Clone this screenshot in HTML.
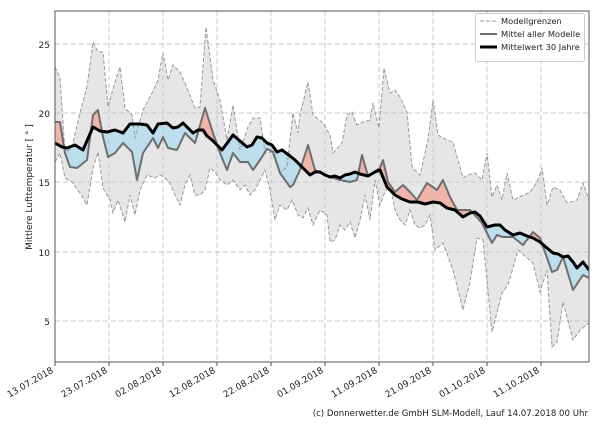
<!DOCTYPE html>
<html><head><meta charset="utf-8"><style>
body{margin:0;background:#fff;width:600px;height:420px;overflow:hidden;font-family:"Liberation Sans","DejaVu Sans",sans-serif}
svg text{font-family:"DejaVu Sans","Liberation Sans",sans-serif;fill:#222}
</style></head><body>
<svg width="600" height="420" viewBox="0 0 600 420" xmlns="http://www.w3.org/2000/svg">
<defs>
<clipPath id="plot"><rect x="55" y="11" width="534" height="351"/></clipPath>
<clipPath id="above"><polygon points="55,143 62,147 67,148 75,145 83,150 93,127 100,131 107,132 115,130 123,133 130,124 140,124 147,125 153,133 158,124 167,123 173,128 178,127 183,123 188,128 193,133 198,130 203,130 207,136 212,140 222,150 228,142 233,135 240,141 247,147 252,145 257,137 262,138 267,143 272,145 277,152 282,150 290,156 295,160 300,165 305,170 310,175 315,172 320,172 325,175 330,177 335,176 340,178 345,175 350,174 355,172 360,174 368,176 375,172 380,170 387,187 395,195 402,199 410,202 418,202 425,204 433,202 440,203 447,208 455,210 463,217 470,213 475,212 480,216 487,227 495,225 500,225 505,230 513,235 520,233 527,236 533,238 540,242 547,248 553,253 558,254 563,257 568,256 573,262 577,268 583,262 589,270 589,0 55,0"/></clipPath>
<clipPath id="below"><polygon points="55,143 62,147 67,148 75,145 83,150 93,127 100,131 107,132 115,130 123,133 130,124 140,124 147,125 153,133 158,124 167,123 173,128 178,127 183,123 188,128 193,133 198,130 203,130 207,136 212,140 222,150 228,142 233,135 240,141 247,147 252,145 257,137 262,138 267,143 272,145 277,152 282,150 290,156 295,160 300,165 305,170 310,175 315,172 320,172 325,175 330,177 335,176 340,178 345,175 350,174 355,172 360,174 368,176 375,172 380,170 387,187 395,195 402,199 410,202 418,202 425,204 433,202 440,203 447,208 455,210 463,217 470,213 475,212 480,216 487,227 495,225 500,225 505,230 513,235 520,233 527,236 533,238 540,242 547,248 553,253 558,254 563,257 568,256 573,262 577,268 583,262 589,270 589,420 55,420"/></clipPath>
</defs>
<g clip-path="url(#plot)">
<polygon fill="#e6e6e6" points="55,67 60,78 65,153 72,147 80,113 87,87 93,42 98,52 103,52 108,107 115,82 120,67 125,108 132,115 135,138 143,110 152,93 158,80 163,53 168,80 173,65 180,72 187,88 195,108 200,107 206,27 213,80 220,100 227,140 233,105 240,150 248,127 253,118 260,118 265,153 272,152 280,173 287,167 293,113 298,133 300,115 308,82 313,115 323,123 330,135 333,153 342,143 347,115 352,112 357,125 363,122 370,120 373,103 379,128 384,68 390,93 395,90 400,97 407,112 412,167 420,175 428,140 433,100 438,135 447,140 453,142 463,178 468,175 475,173 482,180 487,153 492,197 497,185 502,200 507,173 513,200 530,192 537,182 542,168 547,205 553,187 560,190 567,203 577,200 583,183 589,200 589,362 55,362"/>
<polygon fill="#fff" points="55,162 60,153 65,178 72,182 80,193 87,205 93,168 98,152 103,188 110,200 113,213 118,200 125,222 130,195 135,215 140,190 147,175 155,178 160,175 165,178 170,183 175,195 180,205 185,185 190,175 195,195 200,195 205,190 210,168 215,172 220,180 227,185 233,180 240,190 245,185 250,195 255,190 260,180 265,170 270,190 275,220 280,205 287,210 292,200 298,215 303,218 308,208 313,225 320,210 327,215 330,242 335,240 340,225 345,230 350,222 355,238 360,220 365,195 370,220 375,180 380,205 385,192 390,185 395,210 400,220 405,225 410,210 415,225 420,228 425,225 430,215 435,250 443,243 453,270 463,310 470,282 477,238 483,240 492,332 502,293 508,285 518,250 533,263 540,292 547,270 552,347 557,342 563,302 573,340 580,330 589,323 589,362 55,362"/>
<polygon fill="#f0b5a8" clip-path="url(#above)" points="55,122 60,122 65,153 70,167 77,168 87,160 93,115 98,110 103,137 108,157 115,153 123,143 132,152 137,180 143,153 153,138 158,148 163,137 168,148 177,150 185,133 195,143 205,108 213,133 220,153 227,170 233,153 240,162 248,162 253,170 260,160 267,149 273,152 280,173 290,187 293,185 300,170 308,145 315,170 330,177 340,180 350,182 357,180 362,155 368,176 380,168 383,160 388,182 395,192 403,185 410,192 417,200 427,183 437,190 443,180 450,197 457,210 470,210 473,213 482,223 492,243 497,235 503,237 513,237 523,245 533,232 540,238 552,272 557,270 563,257 573,290 583,275 589,278 589,420 55,420"/>
<polygon fill="#bcdeed" clip-path="url(#below)" points="55,122 60,122 65,153 70,167 77,168 87,160 93,115 98,110 103,137 108,157 115,153 123,143 132,152 137,180 143,153 153,138 158,148 163,137 168,148 177,150 185,133 195,143 205,108 213,133 220,153 227,170 233,153 240,162 248,162 253,170 260,160 267,149 273,152 280,173 290,187 293,185 300,170 308,145 315,170 330,177 340,180 350,182 357,180 362,155 368,176 380,168 383,160 388,182 395,192 403,185 410,192 417,200 427,183 437,190 443,180 450,197 457,210 470,210 473,213 482,223 492,243 497,235 503,237 513,237 523,245 533,232 540,238 552,272 557,270 563,257 573,290 583,275 589,278 589,0 55,0"/>
<g stroke="#c8c8c8" stroke-width="1" stroke-dasharray="5,3">
<line x1="109" y1="11" x2="109" y2="362"/><line x1="163" y1="11" x2="163" y2="362"/><line x1="217" y1="11" x2="217" y2="362"/><line x1="271" y1="11" x2="271" y2="362"/><line x1="325" y1="11" x2="325" y2="362"/><line x1="379" y1="11" x2="379" y2="362"/><line x1="433" y1="11" x2="433" y2="362"/><line x1="487" y1="11" x2="487" y2="362"/><line x1="541" y1="11" x2="541" y2="362"/>
<line x1="55" y1="44" x2="589" y2="44"/><line x1="55" y1="113" x2="589" y2="113"/><line x1="55" y1="182" x2="589" y2="182"/><line x1="55" y1="252" x2="589" y2="252"/><line x1="55" y1="321" x2="589" y2="321"/>
</g>
<g fill="none" stroke="#999" stroke-width="1" stroke-dasharray="4,2">
<polyline points="55,67 60,78 65,153 72,147 80,113 87,87 93,42 98,52 103,52 108,107 115,82 120,67 125,108 132,115 135,138 143,110 152,93 158,80 163,53 168,80 173,65 180,72 187,88 195,108 200,107 206,27 213,80 220,100 227,140 233,105 240,150 248,127 253,118 260,118 265,153 272,152 280,173 287,167 293,113 298,133 300,115 308,82 313,115 323,123 330,135 333,153 342,143 347,115 352,112 357,125 363,122 370,120 373,103 379,128 384,68 390,93 395,90 400,97 407,112 412,167 420,175 428,140 433,100 438,135 447,140 453,142 463,178 468,175 475,173 482,180 487,153 492,197 497,185 502,200 507,173 513,200 530,192 537,182 542,168 547,205 553,187 560,190 567,203 577,200 583,183 589,200"/>
<polyline points="55,162 60,153 65,178 72,182 80,193 87,205 93,168 98,152 103,188 110,200 113,213 118,200 125,222 130,195 135,215 140,190 147,175 155,178 160,175 165,178 170,183 175,195 180,205 185,185 190,175 195,195 200,195 205,190 210,168 215,172 220,180 227,185 233,180 240,190 245,185 250,195 255,190 260,180 265,170 270,190 275,220 280,205 287,210 292,200 298,215 303,218 308,208 313,225 320,210 327,215 330,242 335,240 340,225 345,230 350,222 355,238 360,220 365,195 370,220 375,180 380,205 385,192 390,185 395,210 400,220 405,225 410,210 415,225 420,228 425,225 430,215 435,250 443,243 453,270 463,310 470,282 477,238 483,240 492,332 502,293 508,285 518,250 533,263 540,292 547,270 552,347 557,342 563,302 573,340 580,330 589,323"/>
</g>
<polyline fill="none" stroke="#6e6e6e" stroke-width="2" stroke-linejoin="round" points="55,122 60,122 65,153 70,167 77,168 87,160 93,115 98,110 103,137 108,157 115,153 123,143 132,152 137,180 143,153 153,138 158,148 163,137 168,148 177,150 185,133 195,143 205,108 213,133 220,153 227,170 233,153 240,162 248,162 253,170 260,160 267,149 273,152 280,173 290,187 293,185 300,170 308,145 315,170 330,177 340,180 350,182 357,180 362,155 368,176 380,168 383,160 388,182 395,192 403,185 410,192 417,200 427,183 437,190 443,180 450,197 457,210 470,210 473,213 482,223 492,243 497,235 503,237 513,237 523,245 533,232 540,238 552,272 557,270 563,257 573,290 583,275 589,278"/>
<polyline fill="none" stroke="#000" stroke-width="3" stroke-linejoin="round" points="55,143 62,147 67,148 75,145 83,150 93,127 100,131 107,132 115,130 123,133 130,124 140,124 147,125 153,133 158,124 167,123 173,128 178,127 183,123 188,128 193,133 198,130 203,130 207,136 212,140 222,150 228,142 233,135 240,141 247,147 252,145 257,137 262,138 267,143 272,145 277,152 282,150 290,156 295,160 300,165 305,170 310,175 315,172 320,172 325,175 330,177 335,176 340,178 345,175 350,174 355,172 360,174 368,176 375,172 380,170 387,187 395,195 402,199 410,202 418,202 425,204 433,202 440,203 447,208 455,210 463,217 470,213 475,212 480,216 487,227 495,225 500,225 505,230 513,235 520,233 527,236 533,238 540,242 547,248 553,253 558,254 563,257 568,256 573,262 577,268 583,262 589,270"/>
</g>
<rect x="55" y="11" width="534" height="351" fill="none" stroke="#555" stroke-width="1"/>
<g stroke="#555"><line x1="55" y1="362" x2="55" y2="366"/><line x1="109" y1="362" x2="109" y2="366"/><line x1="163" y1="362" x2="163" y2="366"/><line x1="217" y1="362" x2="217" y2="366"/><line x1="271" y1="362" x2="271" y2="366"/><line x1="325" y1="362" x2="325" y2="366"/><line x1="379" y1="362" x2="379" y2="366"/><line x1="433" y1="362" x2="433" y2="366"/><line x1="487" y1="362" x2="487" y2="366"/><line x1="541" y1="362" x2="541" y2="366"/></g>
<g font-size="9" text-anchor="end">
<text x="50" y="48">25</text><text x="50" y="117">20</text><text x="50" y="186">15</text><text x="50" y="256">10</text><text x="50" y="325">5</text>
</g>
<g font-size="9" text-anchor="end">
<text transform="translate(54,372) rotate(-30)">13.07.2018</text>
<text transform="translate(108,372) rotate(-30)">23.07.2018</text>
<text transform="translate(162,372) rotate(-30)">02.08.2018</text>
<text transform="translate(216,372) rotate(-30)">12.08.2018</text>
<text transform="translate(270,372) rotate(-30)">22.08.2018</text>
<text transform="translate(324,372) rotate(-30)">01.09.2018</text>
<text transform="translate(378,372) rotate(-30)">11.09.2018</text>
<text transform="translate(432,372) rotate(-30)">21.09.2018</text>
<text transform="translate(486,372) rotate(-30)">01.10.2018</text>
<text transform="translate(540,372) rotate(-30)">11.10.2018</text>
</g>
<text transform="translate(32,187) rotate(-90)" font-size="9" text-anchor="middle">Mittlere Lufttemperatur [ ° ]</text>
<rect x="475.5" y="13.5" width="109" height="48" fill="#fff" fill-opacity="0.85" stroke="#ccc" rx="2"/>
<line x1="480" y1="21" x2="497" y2="21" stroke="#999" stroke-dasharray="4,2"/>
<line x1="480" y1="34" x2="497" y2="34" stroke="#6e6e6e" stroke-width="2"/>
<line x1="480" y1="47" x2="497" y2="47" stroke="#000" stroke-width="3"/>
<g font-size="8.3"><text x="501" y="24">Modellgrenzen</text><text x="501" y="37">Mittel aller Modelle</text><text x="501" y="50">Mittelwert 30 Jahre</text></g>
<text x="588" y="416" font-size="8.6" text-anchor="end">(c) Donnerwetter.de GmbH SLM-Modell, Lauf 14.07.2018 00 Uhr</text>
</svg>
</body></html>
